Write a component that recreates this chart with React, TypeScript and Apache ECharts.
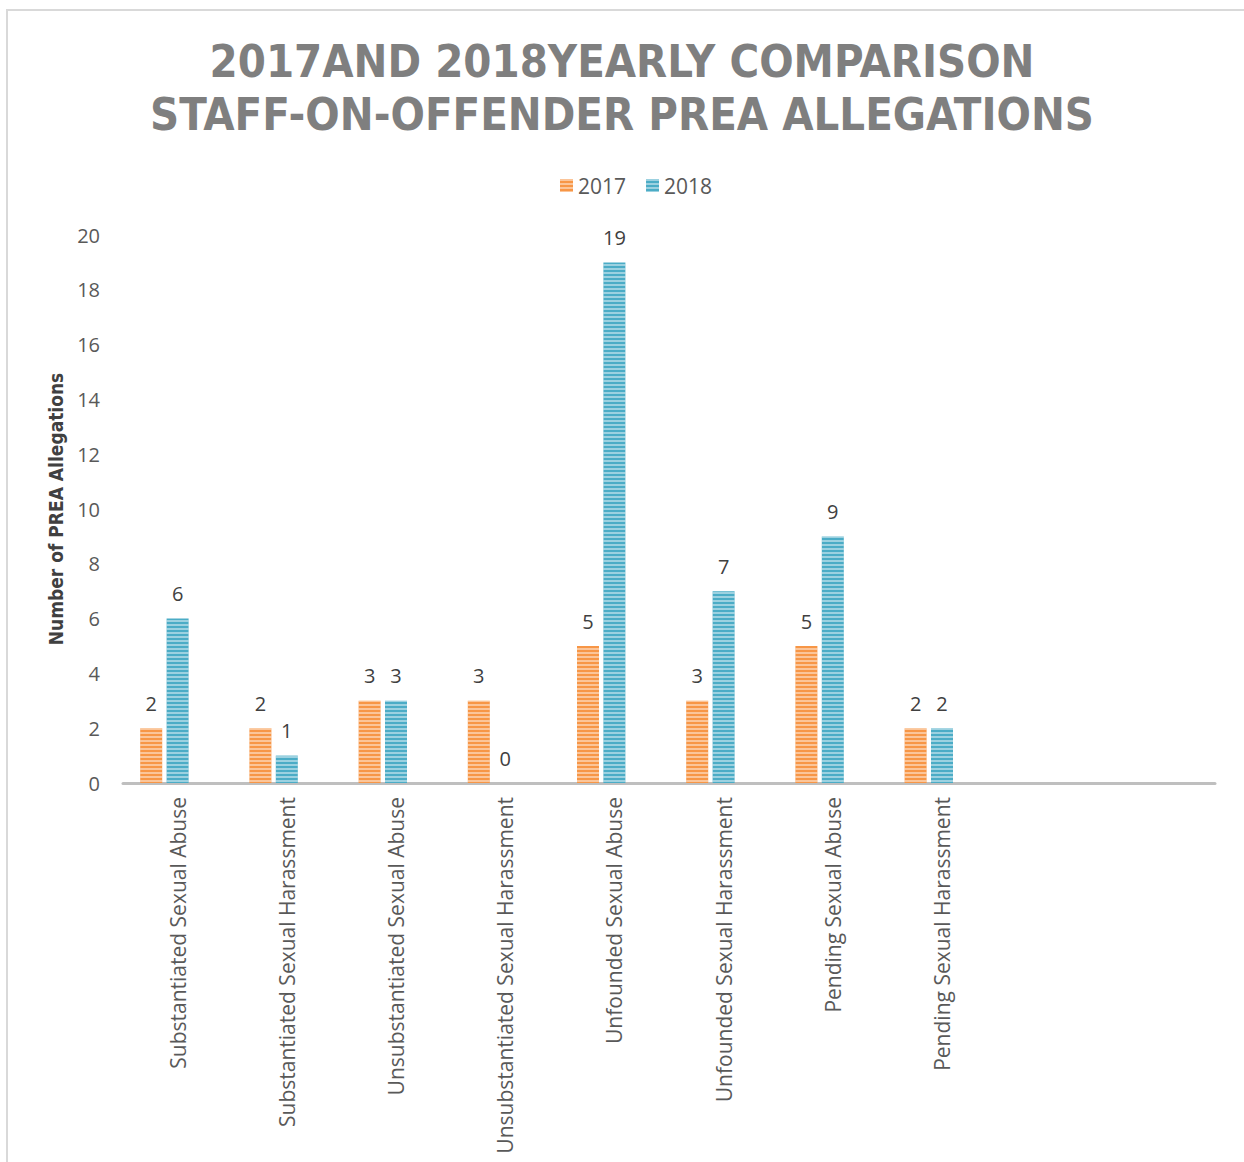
import React, { useEffect, useRef } from "react";
import * as echarts from "echarts";

const categories = [
  "Substantiated Sexual Abuse",
  "Substantiated Sexual Harassment",
  "Unsubstantiated Sexual Abuse",
  "Unsubstantiated Sexual Harassment",
  "Unfounded Sexual Abuse",
  "Unfounded Sexual Harassment",
  "Pending Sexual Abuse",
  "Pending Sexual Harassment",
  "",
  "",
];
const values2017 = [2, 2, 3, 3, 5, 3, 5, 2, null, null];
const values2018 = [6, 1, 3, 0, 19, 7, 9, 2, null, null];
const valuesEmpty = [null, null, null, null, null, null, null, null, null, null];
const yTicks = { min: 0, max: 20, interval: 2 };
const titleLines = ["2017AND 2018YEARLY COMPARISON", "STAFF-ON-OFFENDER PREA ALLEGATIONS"];

const stripe = (c: string) => ({
  symbol: "rect",
  symbolSize: 1,
  color: c,
  dashArrayX: [1, 0],
  dashArrayY: [2, 2],
  rotation: 0,
});

export default function App() {
  const ref = useRef<HTMLDivElement>(null);
  useEffect(() => {
    document.body.style.margin = "0";
    const chart = echarts.init(ref.current!, null, { renderer: "svg" });
    const labelStyle = {
      show: true,
      position: "top" as const,
      distance: 15,
      fontSize: 20,
      color: "#404040",
      fontFamily: "Open Sans",
    };
    chart.setOption({
      animation: false,
      backgroundColor: "#ffffff",
      graphic: [
        {
          type: "rect",
          shape: { x: 7, y: 10, width: 1300, height: 1200 },
          style: { fill: "none", stroke: "#d9d9d9", lineWidth: 2 },
          silent: true,
        },
      ],
      title: {
        text: titleLines.join("\n"),
        left: "center",
        top: 30,
        textStyle: {
          fontFamily: "DejaVu Sans Condensed, DejaVu Sans, Arial",
          fontWeight: "bold",
          fontSize: 45,
          lineHeight: 53,
          color: "#7f7f7f",
        },
      },
      legend: {
        data: ["2017", "2018"],
        top: 170,
        left: 555,
        itemWidth: 13,
        itemHeight: 13,
        itemGap: 20,
        icon: "rect",
        textStyle: { fontSize: 21, color: "#595959", fontFamily: "Open Sans" },
      },
      grid: { left: 123, right: 29, top: 235, bottom: 379 },
      xAxis: {
        type: "category",
        data: categories,
        axisTick: { show: false },
        axisLine: { lineStyle: { color: "#bfbfbf", width: 3 } },
        axisLabel: {
          rotate: 90,
          interval: 0,
          margin: 14,
          fontSize: 21,
          color: "#595959",
          fontFamily: "Open Sans",
        },
      },
      yAxis: {
        type: "value",
        min: yTicks.min,
        max: yTicks.max,
        interval: yTicks.interval,
        splitLine: { show: false },
        axisLine: { show: false },
        axisTick: { show: false },
        axisLabel: { fontSize: 20, color: "#595959", margin: 23, fontFamily: "Open Sans" },
        name: "Number of PREA Allegations",
        nameLocation: "middle",
        nameRotate: 90,
        nameGap: 58,
        nameTextStyle: {
          fontSize: 19,
          fontWeight: "bold",
          color: "#404040",
          fontFamily: "DejaVu Sans Condensed, DejaVu Sans, Arial",
        },
      },
      series: [
        {
          name: "2017",
          type: "bar",
          data: values2017,
          barWidth: 22,
          barGap: "20%",
          itemStyle: { color: "#F79646", decal: stripe("rgba(255,255,255,0.45)") },
          label: labelStyle,
        },
        {
          name: "2018",
          type: "bar",
          data: values2018,
          barWidth: 22,
          barGap: "20%",
          itemStyle: { color: "#4BACC6", decal: stripe("rgba(255,255,255,0.45)") },
          label: labelStyle,
        },
        {
          name: "hidden",
          type: "bar",
          data: valuesEmpty,
          barWidth: 22,
          barGap: "20%",
          itemStyle: { color: "#A5A5A5" },
          label: { show: false },
        },
      ],
    });
    return () => chart.dispose();
  }, []);
  return <div ref={ref} style={{ width: 1244, height: 1162 }} />;
}
